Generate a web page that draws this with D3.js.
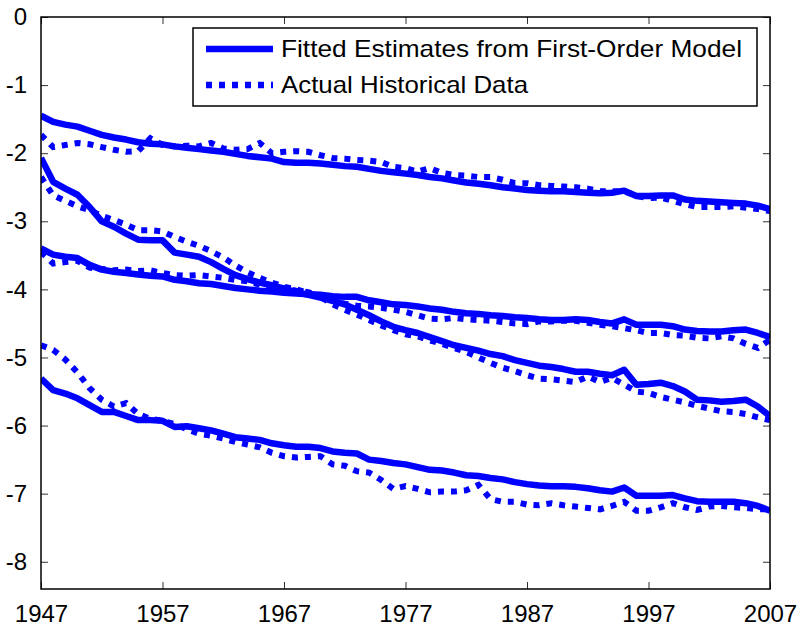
<!DOCTYPE html>
<html>
<head>
<meta charset="utf-8">
<script src="https://cdn.jsdelivr.net/npm/d3@7"></script>
<style>
  body { margin: 0; background: #fff; }
  text { font-family: "Liberation Sans", Arial, sans-serif; fill: #000; }
</style>
</head>
<body>
<div id="container"></div>
<script>
// data: years 1947..2007, four fitted / actual pairs
const years = d3.range(1947, 2008);
const xTicks = [1947, 1957, 1967, 1977, 1987, 1997, 2007];
const yTicks = [0, -1, -2, -3, -4, -5, -6, -7, -8];
const legendLabels = ['Fitted Estimates from First-Order Model', 'Actual Historical Data'];

const fit1 = [-1.45,-1.54,-1.58,-1.61,-1.67,-1.73,-1.77,-1.80,-1.84,-1.86,-1.87,-1.90,-1.92,-1.94,-1.96,-1.98,-2.01,-2.04,-2.06,-2.08,
  -2.13,-2.14,-2.14,-2.15,-2.17,-2.19,-2.20,-2.23,-2.26,-2.28,-2.30,-2.32,-2.35,-2.37,-2.40,-2.43,-2.45,-2.47,-2.50,-2.52,
  -2.54,-2.55,-2.56,-2.56,-2.57,-2.58,-2.59,-2.58,-2.55,-2.63,-2.63,-2.62,-2.62,-2.68,-2.70,-2.71,-2.72,-2.73,-2.74,-2.77,-2.82];
const act1 = [-1.73,-1.91,-1.88,-1.85,-1.87,-1.91,-1.95,-1.98,-1.97,-1.78,-1.88,-1.90,-1.89,-1.90,-1.85,-1.93,-1.95,-1.94,-1.85,-2.00,
  -1.98,-1.97,-1.98,-2.03,-2.07,-2.08,-2.10,-2.11,-2.13,-2.20,-2.22,-2.27,-2.22,-2.29,-2.32,-2.33,-2.35,-2.35,-2.39,-2.44,
  -2.44,-2.47,-2.48,-2.49,-2.50,-2.52,-2.56,-2.56,-2.56,-2.63,-2.66,-2.65,-2.70,-2.75,-2.79,-2.79,-2.79,-2.78,-2.80,-2.82,-2.85];
const fit2 = [-2.07,-2.42,-2.52,-2.61,-2.79,-3.00,-3.08,-3.18,-3.27,-3.28,-3.28,-3.46,-3.49,-3.52,-3.60,-3.70,-3.79,-3.85,-3.90,-3.94,
  -3.99,-4.04,-4.08,-4.12,-4.17,-4.22,-4.30,-4.38,-4.47,-4.55,-4.60,-4.64,-4.70,-4.76,-4.82,-4.86,-4.90,-4.95,-4.98,-5.04,
  -5.08,-5.12,-5.14,-5.17,-5.21,-5.21,-5.24,-5.26,-5.18,-5.40,-5.39,-5.37,-5.42,-5.50,-5.62,-5.63,-5.65,-5.64,-5.62,-5.72,-5.86];
const act2 = [-2.35,-2.62,-2.70,-2.78,-2.84,-2.92,-2.98,-3.05,-3.13,-3.13,-3.15,-3.23,-3.30,-3.36,-3.44,-3.53,-3.65,-3.75,-3.83,-3.90,
  -3.96,-4.00,-4.05,-4.11,-4.22,-4.30,-4.37,-4.45,-4.53,-4.60,-4.66,-4.69,-4.75,-4.80,-4.86,-4.92,-5.00,-5.08,-5.15,-5.20,
  -5.26,-5.31,-5.32,-5.34,-5.36,-5.28,-5.36,-5.30,-5.40,-5.50,-5.52,-5.58,-5.62,-5.66,-5.71,-5.75,-5.79,-5.80,-5.83,-5.88,-5.92];
const fit3 = [-3.40,-3.49,-3.52,-3.54,-3.64,-3.71,-3.74,-3.76,-3.78,-3.80,-3.81,-3.86,-3.88,-3.91,-3.92,-3.95,-3.98,-4.00,-4.02,-4.03,
  -4.05,-4.06,-4.07,-4.08,-4.10,-4.11,-4.11,-4.16,-4.19,-4.22,-4.23,-4.25,-4.28,-4.30,-4.33,-4.35,-4.36,-4.38,-4.39,-4.41,
  -4.42,-4.44,-4.45,-4.45,-4.44,-4.45,-4.48,-4.50,-4.44,-4.52,-4.52,-4.52,-4.54,-4.59,-4.61,-4.62,-4.62,-4.60,-4.59,-4.64,-4.70];
const act3 = [-3.45,-3.62,-3.60,-3.58,-3.68,-3.70,-3.72,-3.71,-3.73,-3.72,-3.76,-3.79,-3.80,-3.79,-3.81,-3.83,-3.86,-3.88,-3.93,-3.97,
  -3.98,-4.02,-4.04,-4.10,-4.17,-4.21,-4.24,-4.25,-4.27,-4.30,-4.33,-4.38,-4.43,-4.44,-4.42,-4.44,-4.45,-4.46,-4.48,-4.50,
  -4.51,-4.47,-4.47,-4.46,-4.46,-4.49,-4.52,-4.54,-4.57,-4.60,-4.64,-4.64,-4.67,-4.68,-4.71,-4.72,-4.69,-4.72,-4.80,-4.86,-4.74];
const fit4 = [-5.31,-5.48,-5.53,-5.60,-5.70,-5.80,-5.80,-5.86,-5.92,-5.92,-5.93,-6.02,-6.01,-6.04,-6.07,-6.12,-6.17,-6.19,-6.21,-6.26,
  -6.29,-6.31,-6.31,-6.33,-6.38,-6.40,-6.41,-6.50,-6.52,-6.55,-6.57,-6.61,-6.65,-6.66,-6.69,-6.73,-6.74,-6.77,-6.79,-6.83,
  -6.86,-6.88,-6.89,-6.89,-6.90,-6.92,-6.95,-6.97,-6.91,-7.03,-7.03,-7.03,-7.02,-7.07,-7.11,-7.12,-7.12,-7.12,-7.14,-7.18,-7.25];
const act4 = [-4.82,-4.89,-5.03,-5.22,-5.45,-5.62,-5.72,-5.67,-5.83,-5.90,-5.93,-5.98,-6.05,-6.12,-6.15,-6.19,-6.24,-6.28,-6.32,-6.40,
  -6.45,-6.47,-6.46,-6.45,-6.57,-6.59,-6.67,-6.69,-6.80,-6.93,-6.89,-6.93,-6.98,-6.97,-6.97,-6.95,-6.87,-7.08,-7.12,-7.12,
  -7.16,-7.17,-7.14,-7.17,-7.19,-7.21,-7.23,-7.18,-7.12,-7.25,-7.25,-7.20,-7.14,-7.20,-7.24,-7.19,-7.18,-7.20,-7.21,-7.23,-7.23];

const fitted = [fit1, fit2, fit3, fit4];
const actual = [act1, act2, act3, act4];

// svg dimensions
const w = 801, h = 628;
const m = { left: 41, right: 31, top: 17, bottom: 39 };
const color = '#0000ff';
const dots = '6,7';

const svg = d3.select('#container')
  .append('svg')
  .attr('width', w)
  .attr('height', h);

// scales
const xScale = d3.scaleLinear()
  .domain([1947, 2007])
  .range([m.left, w - m.right]);

const yScale = d3.scaleLinear()
  .domain([-8.4, 0])
  .range([h - m.bottom, m.top]);

svg.append('clipPath').attr('id', 'clip')
  .append('rect')
  .attr('x', m.left).attr('y', m.top)
  .attr('width', w - m.left - m.right)
  .attr('height', h - m.top - m.bottom);

const line = d3.line()
  .x((d, i) => xScale(years[i]))
  .y(d => yScale(d));

const plot = svg.append('g').attr('clip-path', 'url(#clip)');

actual.forEach(s => {
  plot.append('path')
    .attr('d', line(s))
    .attr('fill', 'none')
    .attr('stroke', color)
    .attr('stroke-width', 6)
    .attr('stroke-dasharray', dots);
});

fitted.forEach(s => {
  plot.append('path')
    .attr('d', line(s))
    .attr('fill', 'none')
    .attr('stroke', color)
    .attr('stroke-width', 6.5)
    .attr('stroke-linejoin', 'round');
});

// axes (ticks point inward, mirrored on top / right)
const fmt = d3.format('d');
const yFmt = d => d === 0 ? '0' : '-' + Math.abs(d);

const xAxis = d3.axisBottom(xScale).tickValues(xTicks).tickFormat(fmt).tickSizeInner(-7).tickSizeOuter(0).tickPadding(16);
const yAxis = d3.axisLeft(yScale).tickValues(yTicks).tickFormat(yFmt).tickSizeInner(-7).tickSizeOuter(0).tickPadding(14);

svg.append('g')
  .attr('transform', `translate(0, ${h - m.bottom})`)
  .call(xAxis);
svg.append('g')
  .attr('transform', `translate(${m.left}, 0)`)
  .call(yAxis);

svg.append('g')
  .attr('transform', `translate(0, ${m.top})`)
  .call(d3.axisTop(xScale).tickValues(xTicks).tickFormat('').tickSizeInner(-7).tickSizeOuter(0));
svg.append('g')
  .attr('transform', `translate(${w - m.right}, 0)`)
  .call(d3.axisRight(yScale).tickValues(yTicks).tickFormat('').tickSizeInner(-7).tickSizeOuter(0));

svg.selectAll('.tick line').attr('stroke', '#333').attr('stroke-width', 1);
svg.selectAll('.domain').remove();
svg.selectAll('.tick text')
  .style('font-family', '"Liberation Sans", Arial, sans-serif')
  .style('font-size', '24px')
  .attr('fill', '#000');

// frame
svg.append('rect')
  .attr('x', m.left).attr('y', m.top)
  .attr('width', w - m.left - m.right)
  .attr('height', h - m.top - m.bottom)
  .attr('fill', 'none')
  .attr('stroke', '#000')
  .attr('stroke-width', 1.5);

// legend
const lg = svg.append('g');
lg.append('rect')
  .attr('x', 193).attr('y', 28)
  .attr('width', 564).attr('height', 78)
  .attr('fill', '#fff')
  .attr('stroke', '#000')
  .attr('stroke-width', 1.5);

const legendWidths = [461, 247];
legendLabels.forEach((label, i) => {
  const yy = 49 + i * 36;
  lg.append('line')
    .attr('x1', 206).attr('x2', 273)
    .attr('y1', yy).attr('y2', yy)
    .attr('stroke', color)
    .attr('stroke-width', 6.5)
    .attr('stroke-dasharray', i === 0 ? null : dots);
  lg.append('text')
    .attr('x', 281).attr('y', yy)
    .attr('dy', '0.35em')
    .attr('textLength', legendWidths[i])
    .attr('lengthAdjust', 'spacingAndGlyphs')
    .style('font-size', '24px')
    .text(label);
});
</script>
</body>
</html>
